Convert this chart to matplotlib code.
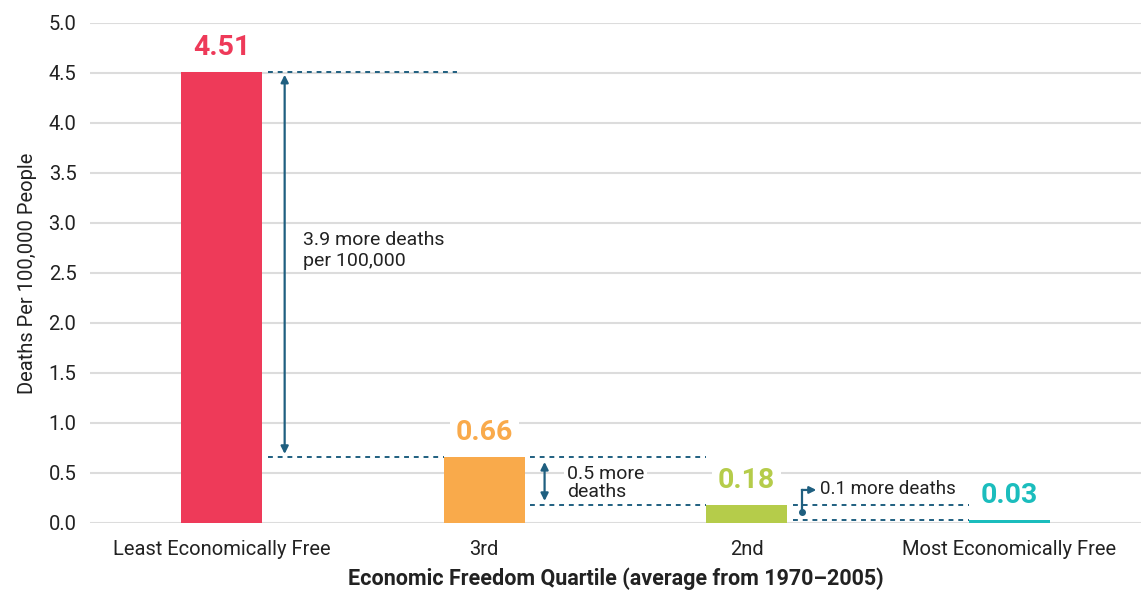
import matplotlib.pyplot as plt
from matplotlib.patches import FancyArrowPatch

plt.rcParams['font.family'] = ['Roboto', 'DejaVu Sans']

# data
categories = ['Least Economically Free', '3rd', '2nd', 'Most Economically Free']
deaths = [4.51, 0.66, 0.18, 0.03]
colors = ['#EE3A59', '#F9AA4B', '#B5CC4A', '#1BBDBD']
diff_notes = ['3.9 more deaths\nper 100,000', '0.5 more\ndeaths', '0.1 more deaths']
yticks = [0.0, 0.5, 1.0, 1.5, 2.0, 2.5, 3.0, 3.5, 4.0, 4.5, 5.0]

dark = '#1F5F80'
txt = '#222222'

fig = plt.figure(figsize=(11.44, 5.92), dpi=100)
ax = fig.add_axes([0.079, 0.1166, 0.918, 0.845])

x = list(range(len(categories)))
ax.bar(x, deaths, width=0.31, color=colors, zorder=3)

ax.set_xlim(-0.5, 3.5)
ax.set_ylim(0, 5.0)
ax.set_yticks(yticks)
ax.set_yticklabels([f'{v:.1f}' for v in yticks])
ax.set_xticks(x)
ax.set_xticklabels(categories)
ax.tick_params(axis='both', length=0, labelsize=14.5, colors=txt)
ax.tick_params(axis='y', pad=10)
ax.tick_params(axis='x', pad=12)
ax.grid(axis='y', color='#DCDCDC', lw=1.5, zorder=0)
for s in ax.spines.values():
    s.set_visible(False)

ax.set_ylabel('Deaths Per 100,000 People', fontsize=14.5, color=txt, labelpad=8)
ax.set_xlabel('Economic Freedom Quartile (average from 1970\u20132005)', fontsize=15.5,
              fontweight='bold', color=txt, labelpad=6)

# value labels
for xi, v, c in zip(x, deaths, colors):
    ax.text(xi, v + 0.24, f'{v:.2f}', ha='center', va='center', fontsize=20.5,
            fontweight='bold', color=c, zorder=4,
            bbox=dict(facecolor='white', edgecolor='none', pad=4))

hw = 0.155
dash = dict(color=dark, lw=1.4, ls=(0, (2.5, 2.5)), zorder=4)

# dashed reference lines
ax.plot([x[0] + hw + 0.02, 0.895], [deaths[0], deaths[0]], **dash)
ax.plot([x[0] + hw + 0.02, x[1] - hw], [deaths[1], deaths[1]], **dash)
ax.plot([x[1] + hw + 0.02, x[2] - hw], [deaths[1], deaths[1]], **dash)
ax.plot([x[1] + hw + 0.02, x[2] - hw], [deaths[2], deaths[2]], **dash)
ax.plot([x[2] + hw + 0.02, x[3] - hw], [deaths[2], deaths[2]], **dash)
ax.plot([x[2] + hw + 0.02, x[3] - hw], [deaths[3], deaths[3]], **dash)

# double arrows
arr = dict(arrowstyle='<|-|>', mutation_scale=11, color=dark, lw=1.6, zorder=5,
           shrinkA=0, shrinkB=0)
ax.add_patch(FancyArrowPatch((0.24, deaths[0] - 0.03), (0.24, deaths[1] + 0.03), **arr))
ax.add_patch(FancyArrowPatch((1.23, deaths[1] - 0.05), (1.23, deaths[2] + 0.04), **arr))

ax.text(0.31, 2.72, diff_notes[0], ha='left', va='center', fontsize=14, color=txt,
        linespacing=1.2, zorder=5)
ax.text(1.315, 0.40, diff_notes[1], ha='left', va='center', fontsize=14, color=txt,
        linespacing=1.05, zorder=5,
        bbox=dict(facecolor='white', edgecolor='none', pad=2))

# elbow arrow for the smallest gap
ax.plot([2.21], [0.105], 'o', color=dark, ms=4, zorder=5)
ax.plot([2.21, 2.21], [0.105, 0.33], color=dark, lw=1.6, zorder=5)
ax.add_patch(FancyArrowPatch((2.21, 0.33), (2.265, 0.33), arrowstyle='-|>',
                             mutation_scale=10, color=dark, lw=1.6, zorder=5,
                             shrinkA=0, shrinkB=0))
ax.text(2.28, 0.335, diff_notes[2], ha='left', va='center', fontsize=13.5, color=txt,
        zorder=5)

fig.savefig('out.png', dpi=100)
